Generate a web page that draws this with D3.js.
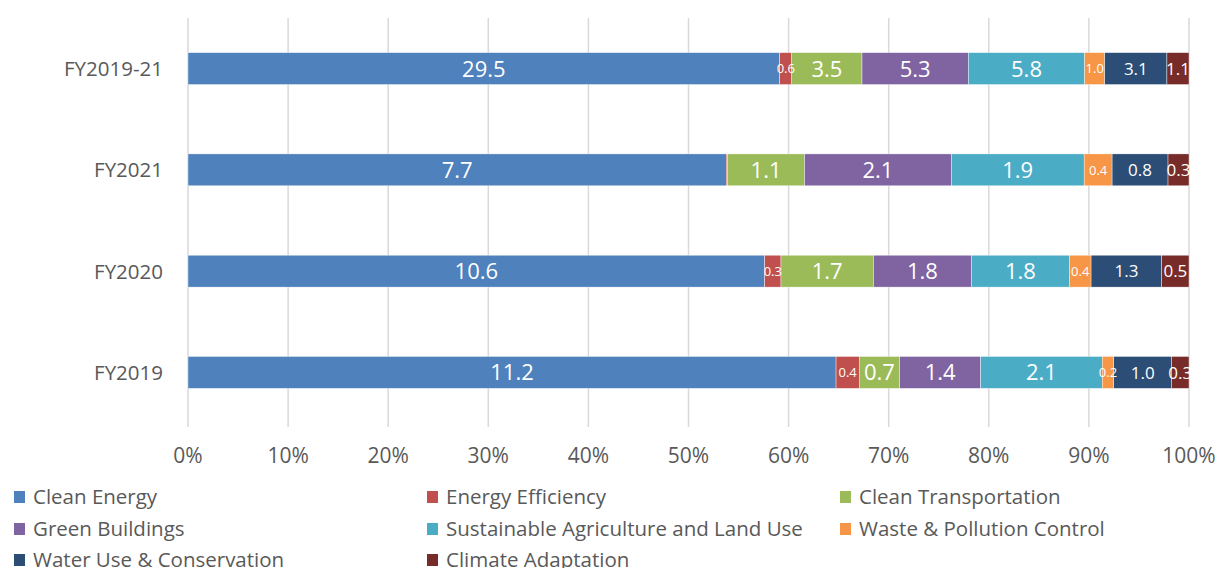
<!DOCTYPE html>
<html>
<head>
<meta charset="utf-8">
<script src="https://cdn.jsdelivr.net/npm/d3@7"></script>
<style>
  html, body { margin: 0; padding: 0; background: #fff; }
  svg { display: block; font-family: "Open Sans", "Noto Sans", sans-serif; }
</style>
</head>
<body>
<svg id="chart" width="1219" height="568"></svg>
<script>
// Fiscal years, top to bottom
const periods = ["FY2019-21", "FY2021", "FY2020", "FY2019"];

// Project categories (stack order, left to right)
const categories = [
  "Clean Energy", "Energy Efficiency", "Clean Transportation", "Green Buildings",
  "Sustainable Agriculture and Land Use", "Waste & Pollution Control",
  "Water Use & Conservation", "Climate Adaptation"
];

// Allocated amounts per category, one value per period (same order as periods)
const cleanEnergy         = [29.5, 7.7, 10.6, 11.2];
const energyEfficiency    = [0.6, 0.02, 0.3, 0.4];
const cleanTransportation = [3.5, 1.1, 1.7, 0.7];
const greenBuildings      = [5.3, 2.1, 1.8, 1.4];
const sustainableAgri     = [5.8, 1.9, 1.8, 2.1];
const wastePollution      = [1.0, 0.4, 0.4, 0.2];
const waterUse            = [3.1, 0.8, 1.3, 1.0];
const climateAdaptation   = [1.1, 0.3, 0.5, 0.3];

// Whether a segment's value is printed (the FY2021 energy-efficiency sliver is unlabeled)
const labelShown = [
  [true, true, true, true],
  [true, false, true, true],
  [true, true, true, true],
  [true, true, true, true],
  [true, true, true, true],
  [true, true, true, true],
  [true, true, true, true],
  [true, true, true, true]
];

const tickValues = [0, 0.1, 0.2, 0.3, 0.4, 0.5, 0.6, 0.7, 0.8, 0.9, 1.0];

const seriesValues = [cleanEnergy, energyEfficiency, cleanTransportation, greenBuildings,
                      sustainableAgri, wastePollution, waterUse, climateAdaptation];

const colors = ["#4f81bd", "#c0504d", "#9bbb59", "#8064a2", "#4bacc6", "#f79646", "#2c4d75", "#772c2a"];
const labelSizes = [22, 13, 22, 22, 22, 13, 17, 17];

const svg = d3.select("#chart");
const margin = { left: 188, right: 30, top: 18, bottom: 145 };
const W = 1219, H = 568;
const innerW = W - margin.left - margin.right;
const innerH = H - margin.top - margin.bottom;

// Build row objects for d3.stack
const rows = periods.map((p, i) => {
  const r = { period: p };
  categories.forEach((c, k) => { r[c] = seriesValues[k][i]; });
  return r;
});

const stack = d3.stack().keys(categories).offset(d3.stackOffsetExpand);
const layers = stack(rows);

const x = d3.scaleLinear().domain([0, 1]).range([0, innerW]);
const y = d3.scaleBand().domain(periods).range([0, innerH]).paddingInner(0.685).paddingOuter(0.342);

const g = svg.append("g").attr("transform", `translate(${margin.left},${margin.top})`);

// Vertical gridlines
g.append("g")
  .selectAll("line")
  .data(tickValues)
  .join("line")
  .attr("x1", d => x(d)).attr("x2", d => x(d))
  .attr("y1", 0).attr("y2", innerH + 4)
  .attr("stroke", "#d9d9d9")
  .attr("stroke-width", 1.5);

// Stacked bars
const layerG = g.selectAll("g.layer")
  .data(layers)
  .join("g")
  .attr("class", "layer")
  .attr("fill", (d, k) => colors[k]);

layerG.selectAll("rect")
  .data(d => d)
  .join("rect")
  .attr("x", d => x(d[0]))
  .attr("y", d => y(d.data.period))
  .attr("width", d => Math.max(0, x(d[1]) - x(d[0])))
  .attr("height", y.bandwidth())
  .attr("stroke", "#ffffff")
  .attr("stroke-width", 0.4);

// Value labels
layers.forEach((layer, k) => {
  g.append("g")
    .selectAll("text")
    .data(layer.map((d, i) => ({ d, i })).filter(o => labelShown[k][o.i]))
    .join("text")
    .attr("x", o => (x(o.d[0]) + x(o.d[1])) / 2)
    .attr("y", o => y(o.d.data.period) + y.bandwidth() / 2)
    .attr("dy", "0.36em")
    .attr("text-anchor", "middle")
    .attr("fill", "#ffffff")
    .attr("font-size", labelSizes[k])
    .text(o => seriesValues[k][o.i].toFixed(1));
});

// Category axis labels
g.append("g")
  .selectAll("text")
  .data(periods)
  .join("text")
  .attr("x", -25)
  .attr("y", d => y(d) + y.bandwidth() / 2)
  .attr("dy", "0.36em")
  .attr("text-anchor", "end")
  .attr("fill", "#595959")
  .attr("font-size", 20.5)
  .text(d => d);

// Percentage axis labels
g.append("g")
  .selectAll("text")
  .data(tickValues)
  .join("text")
  .attr("x", d => x(d))
  .attr("y", innerH + 40)
  .attr("text-anchor", "middle")
  .attr("fill", "#595959")
  .attr("font-size", 21)
  .text(d => d3.format(".0%")(d));

// Legend
const legendCols = [14, 427, 840];
const legendRows = [497, 529, 560];
const legend = svg.append("g")
  .selectAll("g")
  .data(categories)
  .join("g")
  .attr("transform", (d, k) => `translate(${legendCols[k % 3]},${legendRows[Math.floor(k / 3)]})`);

legend.append("rect")
  .attr("x", 0).attr("y", -6)
  .attr("width", 11).attr("height", 12)
  .attr("fill", (d, k) => colors[k]);

legend.append("text")
  .attr("x", 19)
  .attr("y", 0)
  .attr("dy", "0.36em")
  .attr("fill", "#595959")
  .attr("font-size", 20.5)
  .text(d => d);
</script>
</body>
</html>
